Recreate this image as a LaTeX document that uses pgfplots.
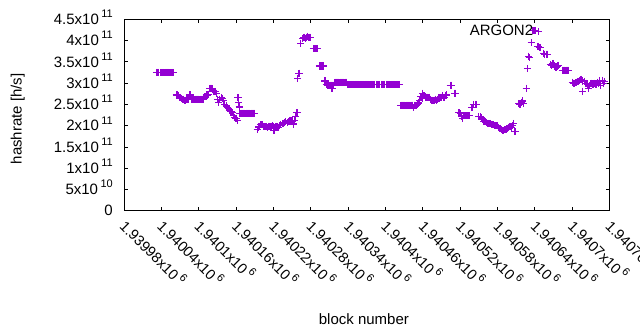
\documentclass[border=0pt]{standalone}
\usepackage{pgfplots}
\pgfplotsset{compat=1.18}
\usepackage{fontspec}
\setmainfont{Liberation Sans}
\definecolor{dv}{HTML}{9400D3}
\newcommand{\sx}[1]{\,\raisebox{0.45em}[0pt][0pt]{\fontsize{11}{11}\selectfont #1}}
\pgfplotstableread{
x y
1940032 3.25
1940034 3.25
1940036 3.25
1940038 3.25
1940040 3.25
1940042 3.25
1940044 3.25
1940046 3.25
1940048 3.25
1940050 3.25
1940052 3.25
1940054 3.25
1940056 3.25
1940058 3.25
1940060 3.25
1940064 2.72
1940066 2.72
1940068 2.70
1940070 2.66
1940072 2.64
1940074 2.62
1940076 2.62
1940078 2.60
1940080 2.62
1940082 2.62
1940084 2.62
1940086 2.72
1940088 2.62
1940090 2.62
1940092 2.62
1940094 2.62
1940096 2.62
1940098 2.62
1940100 2.62
1940102 2.62
1940104 2.62
1940106 2.62
1940108 2.62
1940110 2.68
1940112 2.72
1940114 2.72
1940116 2.74
1940118 2.88
1940120 2.88
1940122 2.86
1940124 2.80
1940126 2.80
1940128 2.76
1940130 2.62
1940132 2.54
1940134 2.62
1940136 2.66
1940138 2.64
1940140 2.60
1940142 2.50
1940144 2.46
1940146 2.43
1940148 2.40
1940150 2.36
1940152 2.34
1940154 2.30
1940156 2.24
1940158 2.20
1940160 2.16
1940162 2.12
1940163 2.66
1940164 2.54
1940165 2.44
1940166 2.29
1940168 2.29
1940170 2.29
1940172 2.29
1940174 2.29
1940176 2.29
1940178 2.29
1940180 2.29
1940182 2.29
1940184 2.29
1940186 2.29
1940188 2.29
1940190 2.29
1940194 1.90
1940196 1.97
1940198 1.98
1940200 2.02
1940202 2.02
1940204 1.98
1940206 1.98
1940208 1.98
1940210 1.96
1940212 1.98
1940214 1.98
1940216 1.98
1940218 2.00
1940220 1.98
1940221 1.89
1940222 1.96
1940224 1.98
1940226 1.98
1940228 1.96
1940230 2.00
1940232 2.02
1940234 2.05
1940236 2.05
1940238 2.07
1940240 2.09
1940242 2.07
1940244 2.09
1940246 2.11
1940248 2.13
1940250 2.11
1940252 2.04
1940254 2.13
1940256 2.22
1940258 2.30
1940259 3.10
1940261 3.23
1940264 3.94
1940267 4.05
1940269 4.08
1940271 4.05
1940273 4.08
1940275 4.10
1940277 4.08
1940279 4.08
1940284 3.81
1940286 3.81
1940288 3.81
1940290 3.81
1940294 3.40
1940296 3.40
1940298 3.40
1940300 3.40
1940303 3.05
1940305 2.97
1940307 2.95
1940309 2.95
1940311 2.95
1940313 2.95
1940314 2.87
1940315 2.95
1940317 2.95
1940319 3.02
1940321 3.02
1940323 3.02
1940325 3.02
1940327 3.02
1940329 3.02
1940331 3.02
1940333 3.02
1940335 3.02
1940337 3.02
1940339 2.97
1940341 2.97
1940343 2.97
1940345 2.97
1940347 2.97
1940349 2.97
1940351 2.97
1940353 2.97
1940355 2.97
1940357 2.97
1940359 2.97
1940361 2.97
1940363 2.97
1940365 2.97
1940367 2.97
1940369 2.97
1940371 2.97
1940373 2.97
1940375 2.97
1940377 2.97
1940379 2.97
1940381 2.97
1940383 2.97
1940385 2.97
1940387 2.97
1940389 2.97
1940391 2.97
1940393 2.97
1940395 2.97
1940397 2.97
1940399 2.97
1940401 2.97
1940403 2.97
1940405 2.97
1940407 2.97
1940409 2.97
1940411 2.97
1940413 2.97
1940415 2.97
1940417 2.97
1940419 2.97
1940421 2.97
1940423 2.97
1940425 2.48
1940427 2.48
1940429 2.48
1940431 2.48
1940433 2.48
1940435 2.48
1940437 2.48
1940439 2.48
1940441 2.48
1940443 2.48
1940445 2.42
1940447 2.48
1940449 2.48
1940451 2.50
1940453 2.53
1940455 2.60
1940457 2.68
1940459 2.65
1940460 2.76
1940462 2.70
1940464 2.67
1940466 2.67
1940468 2.67
1940470 2.67
1940472 2.62
1940474 2.60
1940476 2.60
1940478 2.60
1940480 2.62
1940482 2.60
1940484 2.62
1940486 2.65
1940488 2.67
1940490 2.67
1940492 2.70
1940494 2.67
1940496 2.70
1940498 2.72
1940504 2.95
1940506 2.95
1940511 2.76
1940513 2.76
1940518 2.30
1940520 2.28
1940522 2.21
1940524 2.16
1940526 2.23
1940528 2.23
1940530 2.23
1940532 2.23
1940534 2.23
1940539 2.42
1940542 2.50
1940544 2.50
1940546 2.50
1940550 2.21
1940552 2.21
1940554 2.18
1940556 2.14
1940558 2.10
1940560 2.09
1940562 2.07
1940564 2.05
1940566 2.05
1940568 2.05
1940570 2.03
1940572 2.02
1940574 2.02
1940576 2.00
1940578 2.00
1940580 2.00
1940582 1.96
1940584 1.94
1940586 1.90
1940588 1.88
1940590 1.88
1940592 1.90
1940594 1.92
1940596 1.94
1940598 1.96
1940600 1.98
1940602 1.96
1940604 2.00
1940606 2.05
1940608 1.86
1940614 2.52
1940616 2.50
1940618 2.55
1940620 2.58
1940622 2.52
1940626 2.88
1940628 3.34
1940630 3.63
1940631 3.60
1940634 3.95
1940637 4.23
1940639 4.23
1940641 4.23
1940645 3.86
1940647 3.84
1940649 3.84
1940654 3.70
1940656 3.68
1940658 3.68
1940660 3.68
1940665 3.44
1940667 3.42
1940669 3.46
1940671 3.40
1940674 3.38
1940676 3.40
1940678 3.42
1940684 3.30
1940686 3.30
1940688 3.30
1940690 3.30
1940692 3.30
1940694 3.30
1940700 3.02
1940702 3.00
1940704 3.00
1940706 3.02
1940708 3.04
1940710 3.04
1940712 3.06
1940714 3.09
1940716 3.05
1940717 2.81
1940720 3.04
1940722 3.00
1940724 2.98
1940726 2.88
1940728 2.95
1940730 3.00
1940732 2.98
1940734 2.98
1940736 3.00
1940738 2.98
1940740 3.02
1940742 3.00
1940744 3.05
1940746 2.95
1940748 3.06
1940750 3.00
1940752 3.04
}\argon
\begin{document}
\fontsize{15}{18}\selectfont
\begin{tikzpicture}
\useasboundingbox (0,0) rectangle (640pt,330pt);
\begin{axis}[
  at={(124pt,119.3pt)}, anchor=south west,
  scale only axis, width=485.6pt, height=191.4pt,
  xmin=1939980, xmax=1940760, ymin=0, ymax=4.5,
  scaled x ticks=false, scaled y ticks=false,
  axis line style={line width=0.8pt},
  tick align=inside, major tick length=4pt,
  every tick/.style={black, line width=0.8pt},
  xtick={1939980,1940040,1940100,1940160,1940220,1940280,1940340,1940400,1940460,1940520,1940580,1940640,1940700,1940760},
  xticklabels={1.93998x10\sx{6},1.94004x10\sx{6},1.9401x10\sx{6},1.94016x10\sx{6},1.94022x10\sx{6},1.94028x10\sx{6},1.94034x10\sx{6},1.9404x10\sx{6},1.94046x10\sx{6},1.94052x10\sx{6},1.94058x10\sx{6},1.94064x10\sx{6},1.9407x10\sx{6},1.94076x10\sx{6}},
  ytick={0,0.5,1,1.5,2,2.5,3,3.5,4,4.5},
  yticklabels={0,5x10\sx{10},1x10\sx{11},1.5x10\sx{11},2x10\sx{11},2.5x10\sx{11},3x10\sx{11},3.5x10\sx{11},4x10\sx{11},4.5x10\sx{11}},
  xticklabel style={rotate=-45, anchor=north west, font=\fontsize{14.5}{18}\selectfont, xshift=3pt},
  yticklabel style={font=\fontsize{15}{18}\selectfont, xshift=-6pt},
  xlabel={block number}, ylabel={hashrate [h/s]},
  xlabel style={at={(axis description cs:0.494,-0.564)}, anchor=center, font=\fontsize{15}{18}\selectfont},
  ylabel style={at={(axis description cs:-0.219,0.48)}, anchor=center, rotate=0, font=\fontsize{15}{18}\selectfont},
  legend plot pos=right,
  legend style={draw=none, fill=none, at={(axis description cs:0.868,0.935)}, anchor=east, font=\fontsize{15}{18}\selectfont},
  clip=false,
]
\addplot[only marks, mark=+, mark size=3.6pt, line width=1.2pt, color=dv] table[x=x,y=y] {\argon};
\addlegendentry{ARGON2}
\end{axis}
\end{tikzpicture}
\end{document}
